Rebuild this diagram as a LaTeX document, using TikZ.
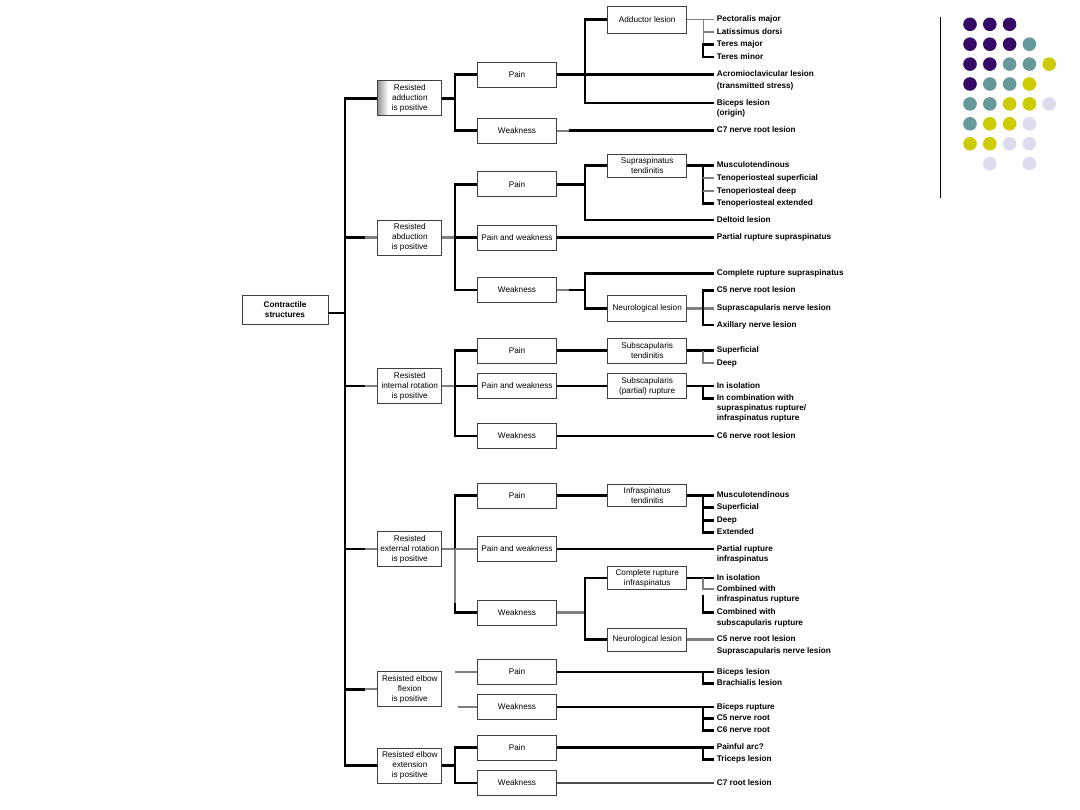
\documentclass[tikz,border=0pt]{standalone}
\usepackage{fontspec}
\newfontfamily\arialf{Liberation Sans}
\newcommand{\boxf}{\arialf\fontsize{8.2}{10}\selectfont}
\newcommand{\leaff}{\arialf\bfseries\fontsize{8.2}{10}\selectfont}
\definecolor{dpur}{HTML}{340A66}
\definecolor{dteal}{HTML}{669999}
\definecolor{dyel}{HTML}{CCCC00}
\definecolor{dlav}{HTML}{DCDCEE}
\begin{document}
\begin{tikzpicture}[x=1pt,y=-1pt,
  conn/.style={line width=2.8pt, black, line join=miter},
  faint/.style={line width=2.3pt, black!50},
  thinc/.style={line width=1pt, black!50},
  box/.style={draw=black!75, line width=0.7pt, fill=white, align=center, inner sep=1pt, font=\boxf},
  lone/.style={box, minimum width=64pt, minimum height=35pt},
  ltwo/.style={box, minimum width=79.5pt, minimum height=25pt},
  lthree/.style={box, minimum width=79pt},
  leaf/.style={anchor=west, inner xsep=3pt, inner ysep=0pt, text height=6pt, text depth=1.8pt, font=\leaff},
  more/.style={anchor=west, inner xsep=3pt, inner ysep=0pt, text height=6pt, text depth=1.8pt, font=\leaff}]
\useasboundingbox (0,0) rectangle (1080,810);

% bus x positions
\coordinate (xone) at (345,0);
\coordinate (x2) at (455,0);
\coordinate (x3) at (585,0);
\coordinate (x4) at (703,0);

% root
\node[box, font=\leaff, minimum width=86pt, minimum height=29pt] (cs) at (285,309.5) {Contractile\\structures};

% level 1
\shade[left color=black!40, right color=white] (378,81.1) rectangle (388,115.3);
\node[lone, fill=none] (add) at (409.8,98.2) {Resisted\\adduction\\is positive};
\node[lone] (abd) at (409.8,237.5) {Resisted\\abduction\\is positive};
\node[lone] (int) at (409.8,386) {Resisted\\internal rotation\\is positive};
\node[lone] (ext) at (409.8,549) {Resisted\\external rotation\\is positive};
\node[lone] (flex) at (409.8,689.2) {Resisted elbow\\flexion\\is positive};
\node[lone] (extn) at (409.8,765.5) {Resisted elbow\\extension\\is positive};

% level 2
\node[ltwo] (p1) at (517,74.5) {Pain};
\node[ltwo] (w1) at (517,130.7) {Weakness};
\node[ltwo] (p2) at (517,184.2) {Pain};
\node[ltwo] (pw2) at (517,237.5) {Pain and weakness};
\node[ltwo] (w2) at (517,290) {Weakness};
\node[ltwo] (p3) at (517,350.8) {Pain};
\node[ltwo] (pw3) at (517,386) {Pain and weakness};
\node[ltwo] (w3) at (517,436) {Weakness};
\node[ltwo] (p4) at (517,495.5) {Pain};
\node[ltwo] (pw4) at (517,549) {Pain and weakness};
\node[ltwo] (w4) at (517,612.5) {Weakness};
\node[ltwo] (p5) at (517,672) {Pain};
\node[ltwo] (w5) at (517,707) {Weakness};
\node[ltwo] (p6) at (517,747.5) {Pain};
\node[ltwo] (w6) at (517,783) {Weakness};

% level 3
\node[lthree, minimum height=27pt] (al) at (647.2,19.5) {Adductor lesion};
\node[lthree, minimum height=23pt] (st) at (647.2,165.5) {Supraspinatus\\tendinitis};
\node[lthree, minimum height=26pt] (nla) at (647.2,308.5) {Neurological lesion};
\node[lthree, minimum height=25pt] (sct) at (647.2,350.8) {Subscapularis\\tendinitis};
\node[lthree, minimum height=25pt] (scr) at (647.2,386) {Subscapularis\\(partial) rupture};
\node[lthree, minimum height=22pt] (it) at (647.2,495.5) {Infraspinatus\\tendinitis};
\node[lthree, minimum height=23pt] (cri) at (647.2,578) {Complete rupture\\infraspinatus};
\node[lthree, minimum height=23pt] (nlb) at (647.2,639.5) {Neurological lesion};

% leaves
\node[leaf] (pm) at (713.7,19.5) {Pectoralis major};
\node[leaf] (ld) at (713.7,32.3) {Latissimus dorsi};
\node[leaf] (tmj) at (713.7,44.3) {Teres major};
\node[leaf] (tmn) at (713.7,57) {Teres minor};
\node[leaf] (ac) at (713.7,74.5) {Acromioclavicular lesion};
\node[more] (acb) at (713.7,86) {(transmitted stress)};
\node[leaf] (bl) at (713.7,103) {Biceps lesion};
\node[more] (blb) at (713.7,113.8) {(origin)};
\node[leaf] (cseven) at (713.7,130.7) {C7 nerve root lesion};
\node[leaf] (mt) at (713.7,165.5) {Musculotendinous};
\node[leaf] (tsu) at (713.7,178.3) {Tenoperiosteal superficial};
\node[leaf] (tde) at (713.7,191) {Tenoperiosteal deep};
\node[leaf] (tex) at (713.7,203.3) {Tenoperiosteal extended};
\node[leaf] (dl) at (713.7,220) {Deltoid lesion};
\node[leaf] (prs) at (713.7,237.5) {Partial rupture supraspinatus};
\node[leaf] (crs) at (713.7,273.3) {Complete rupture supraspinatus};
\node[leaf] (cfa) at (713.7,290.7) {C5 nerve root lesion};
\node[leaf] (ssn) at (713.7,308.5) {Suprascapularis nerve lesion};
\node[leaf] (axn) at (713.7,325) {Axillary nerve lesion};
\node[leaf] (sup) at (713.7,350.8) {Superficial};
\node[leaf] (dee) at (713.7,363.3) {Deep};
\node[leaf] (iso) at (713.7,386) {In isolation};
\node[leaf] (icb) at (713.7,398.3) {In combination with};
\node[more] (icbb) at (713.7,408.8) {supraspinatus rupture/};
\node[more] (icbc) at (713.7,418.8) {infraspinatus rupture};
\node[leaf] (csix) at (713.7,436) {C6 nerve root lesion};
\node[leaf] (mtb) at (713.7,495.5) {Musculotendinous};
\node[leaf] (sfb) at (713.7,507.7) {Superficial};
\node[leaf] (dpb) at (713.7,520.3) {Deep};
\node[leaf] (exb) at (713.7,532.3) {Extended};
\node[leaf] (pri) at (713.7,549) {Partial rupture};
\node[more] (prib) at (713.7,559.2) {infraspinatus};
\node[leaf] (isob) at (713.7,578) {In isolation};
\node[leaf] (cwa) at (713.7,589.3) {Combined with};
\node[more] (cwab) at (713.7,599.5) {infraspinatus rupture};
\node[leaf] (cwb) at (713.7,612.7) {Combined with};
\node[more] (cwbb) at (713.7,623.2) {subscapularis rupture};
\node[leaf] (cfb) at (713.7,639.5) {C5 nerve root lesion};
\node[leaf] (ssnb) at (713.7,651.7) {Suprascapularis nerve lesion};
\node[leaf] (bil) at (713.7,672) {Biceps lesion};
\node[leaf] (brl) at (713.7,683.5) {Brachialis lesion};
\node[leaf] (bru) at (713.7,707) {Biceps rupture};
\node[leaf] (cfr) at (713.7,718.7) {C5 nerve root};
\node[leaf] (csr) at (713.7,730.7) {C6 nerve root};
\node[leaf] (pac) at (713.7,747.5) {Painful arc?};
\node[leaf] (trl) at (713.7,759.5) {Triceps lesion};
\node[leaf] (csevr) at (713.7,783) {C7 root lesion};

% spine
\coordinate (sp) at (345,313);
\draw[conn] (add.west) -| (sp) |- (extn.west);
\draw[conn] (cs.east |- sp) -- (sp);
\draw[conn] (xone |- abd.west) -- ++(20,0);
\draw[faint] (xone |- abd.west) ++(20,0) -- (abd.west);
\draw[conn] (xone |- int.west) -- ++(20,0);
\draw[faint] (xone |- int.west) ++(20,0) -- (int.west);
\draw[conn] (xone |- ext.west) -- ++(20,0);
\draw[faint] (xone |- ext.west) ++(20,0) -- (ext.west);
\draw[conn] (xone |- flex.west) -- ++(20,0);
\draw[faint] (xone |- flex.west) ++(20,0) -- (flex.west);

% adduction
\draw[conn] (add.east) -- (x2 |- add.east);
\draw[conn] (p1.west) -| (x2 |- w1.west) -- (w1.west);
\draw[conn] (p1.east) -- (ac.west);
\draw[conn] (al.west) -| (x3 |- bl.west) -- (bl.west);
\draw[thinc] (al.east) -- (pm.west);
\draw[thinc] (x4 |- pm.west) -- (x4 |- tmj.west);
\draw[faint] (x4 |- ld.west) -- (ld.west);
\draw[conn] (tmj.west) -| (x4 |- tmn.west) -- (tmn.west);
\draw[faint] (w1.east) -- ++(12,0);
\draw[conn] (w1.east) ++(12,0) -- (cseven.west);

% abduction
\draw[faint] (abd.east) -- (x2 |- abd.east);
\draw[conn] (p2.west) -| (x2 |- w2.west) -- (w2.west);
\draw[conn] (x2 |- pw2.west) -- (pw2.west);
\draw[conn] (p2.east) -- (x3 |- p2.east);
\draw[conn] (st.west) -| (x3 |- dl.west) -- (dl.west);
\draw[conn] (st.east) -- (mt.west);
\draw[conn] (x4 |- mt.west) -- (x4 |- tex.west) -- (tex.west);
\draw[faint] (x4 |- tsu.west) -- (tsu.west);
\draw[faint] (x4 |- tde.west) -- (tde.west);
\draw[conn] (pw2.east) -- (prs.west);
\draw[faint] (w2.east) -- ++(12,0);
\draw[conn] (w2.east) ++(12,0) -- (x3 |- w2.east);
\draw[conn] (crs.west) -| (x3 |- nla.west) -- (nla.west);
\draw[faint] (nla.east) -- (ssn.west);
\draw[conn] (cfa.west) -| (x4 |- axn.west) -- (axn.west);

% internal rotation
\draw[faint] (int.east) -- (x2 |- int.east);
\draw[conn] (p3.west) -| (x2 |- w3.west) -- (w3.west);
\draw[conn] (x2 |- pw3.west) -- (pw3.west);
\draw[conn] (p3.east) -- (sct.west);
\draw[conn] (sct.east) -- (sup.west);
\draw[faint] (x4 |- sup.west) |- (dee.west);
\draw[conn] (pw3.east) -- (scr.west);
\draw[conn] (scr.east) -- (iso.west);
\draw[conn] (x4 |- iso.west) |- (icb.west);
\draw[conn] (w3.east) -- (csix.west);

% external rotation
\draw[faint] (ext.east) -- (x2 |- ext.east);
\draw[conn] (p4.west) -| (x2 |- pw4.west);
\draw[faint] (x2 |- pw4.west) -- (x2 |- w4.west);
\draw[conn] (x2 |- w4.west) ++(0,-10) |- (w4.west);
\draw[faint] (x2 |- pw4.west) -- (pw4.west);
\draw[conn] (p4.east) -- (it.west);
\draw[conn] (it.east) -- (mtb.west);
\draw[conn] (x4 |- mtb.west) |- (exb.west);
\draw[conn] (x4 |- sfb.west) -- (sfb.west);
\draw[conn] (x4 |- dpb.west) -- (dpb.west);
\draw[conn] (pw4.east) -- (pri.west);
\draw[faint] (w4.east) -- (x3 |- w4.east);
\draw[conn] (cri.west) -| (x3 |- nlb.west) -- (nlb.west);
\draw[conn] (cri.east) -- (isob.west);
\draw[faint] (x4 |- isob.west) -- (x4 |- cwa.west) -- (cwa.west);
\draw[conn] (x4 |- cwa.west) ++(0,6) |- (cwb.west);
\draw[faint] (nlb.east) -- (cfb.west);

% elbow flexion
\draw[faint] (x2 |- p5.west) -- (p5.west);
\draw[faint] (x2 |- w5.west) ++(3,0) -- (w5.west);
\draw[conn] (p5.east) -- (bil.west);
\draw[conn] (x4 |- bil.west) |- (brl.west);
\draw[conn] (w5.east) -- (bru.west);
\draw[conn] (x4 |- bru.west) |- (csr.west);
\draw[conn] (x4 |- cfr.west) -- (cfr.west);

% elbow extension
\draw[conn] (extn.east) -- (x2 |- extn.east);
\draw[conn] (p6.west) -| (x2 |- w6.west) -- (w6.west);
\draw[conn] (p6.east) -- (pac.west);
\draw[conn] (x4 |- pac.west) |- (trl.west);
\draw[conn, black!70] (w6.east) -- (csevr.west);

% decoration
\draw[line width=1pt] (940.7,17) -- (940.7,198);
\foreach \c/\r/\col in {1/1/dpur,2/1/dpur,3/1/dpur,
  1/2/dpur,2/2/dpur,3/2/dpur,4/2/dteal,
  1/3/dpur,2/3/dpur,3/3/dteal,4/3/dteal,5/3/dyel,
  1/4/dpur,2/4/dteal,3/4/dteal,4/4/dyel,
  1/5/dteal,2/5/dteal,3/5/dyel,4/5/dyel,5/5/dlav,
  1/6/dteal,2/6/dyel,3/6/dyel,4/6/dlav,
  1/7/dyel,2/7/dyel,3/7/dlav,4/7/dlav,
  2/8/dlav,4/8/dlav}
  \fill[\col] ({970+19.8*(\c-1)},{24.3+19.9*(\r-1)}) circle (6.8);
\end{tikzpicture}
\end{document}
